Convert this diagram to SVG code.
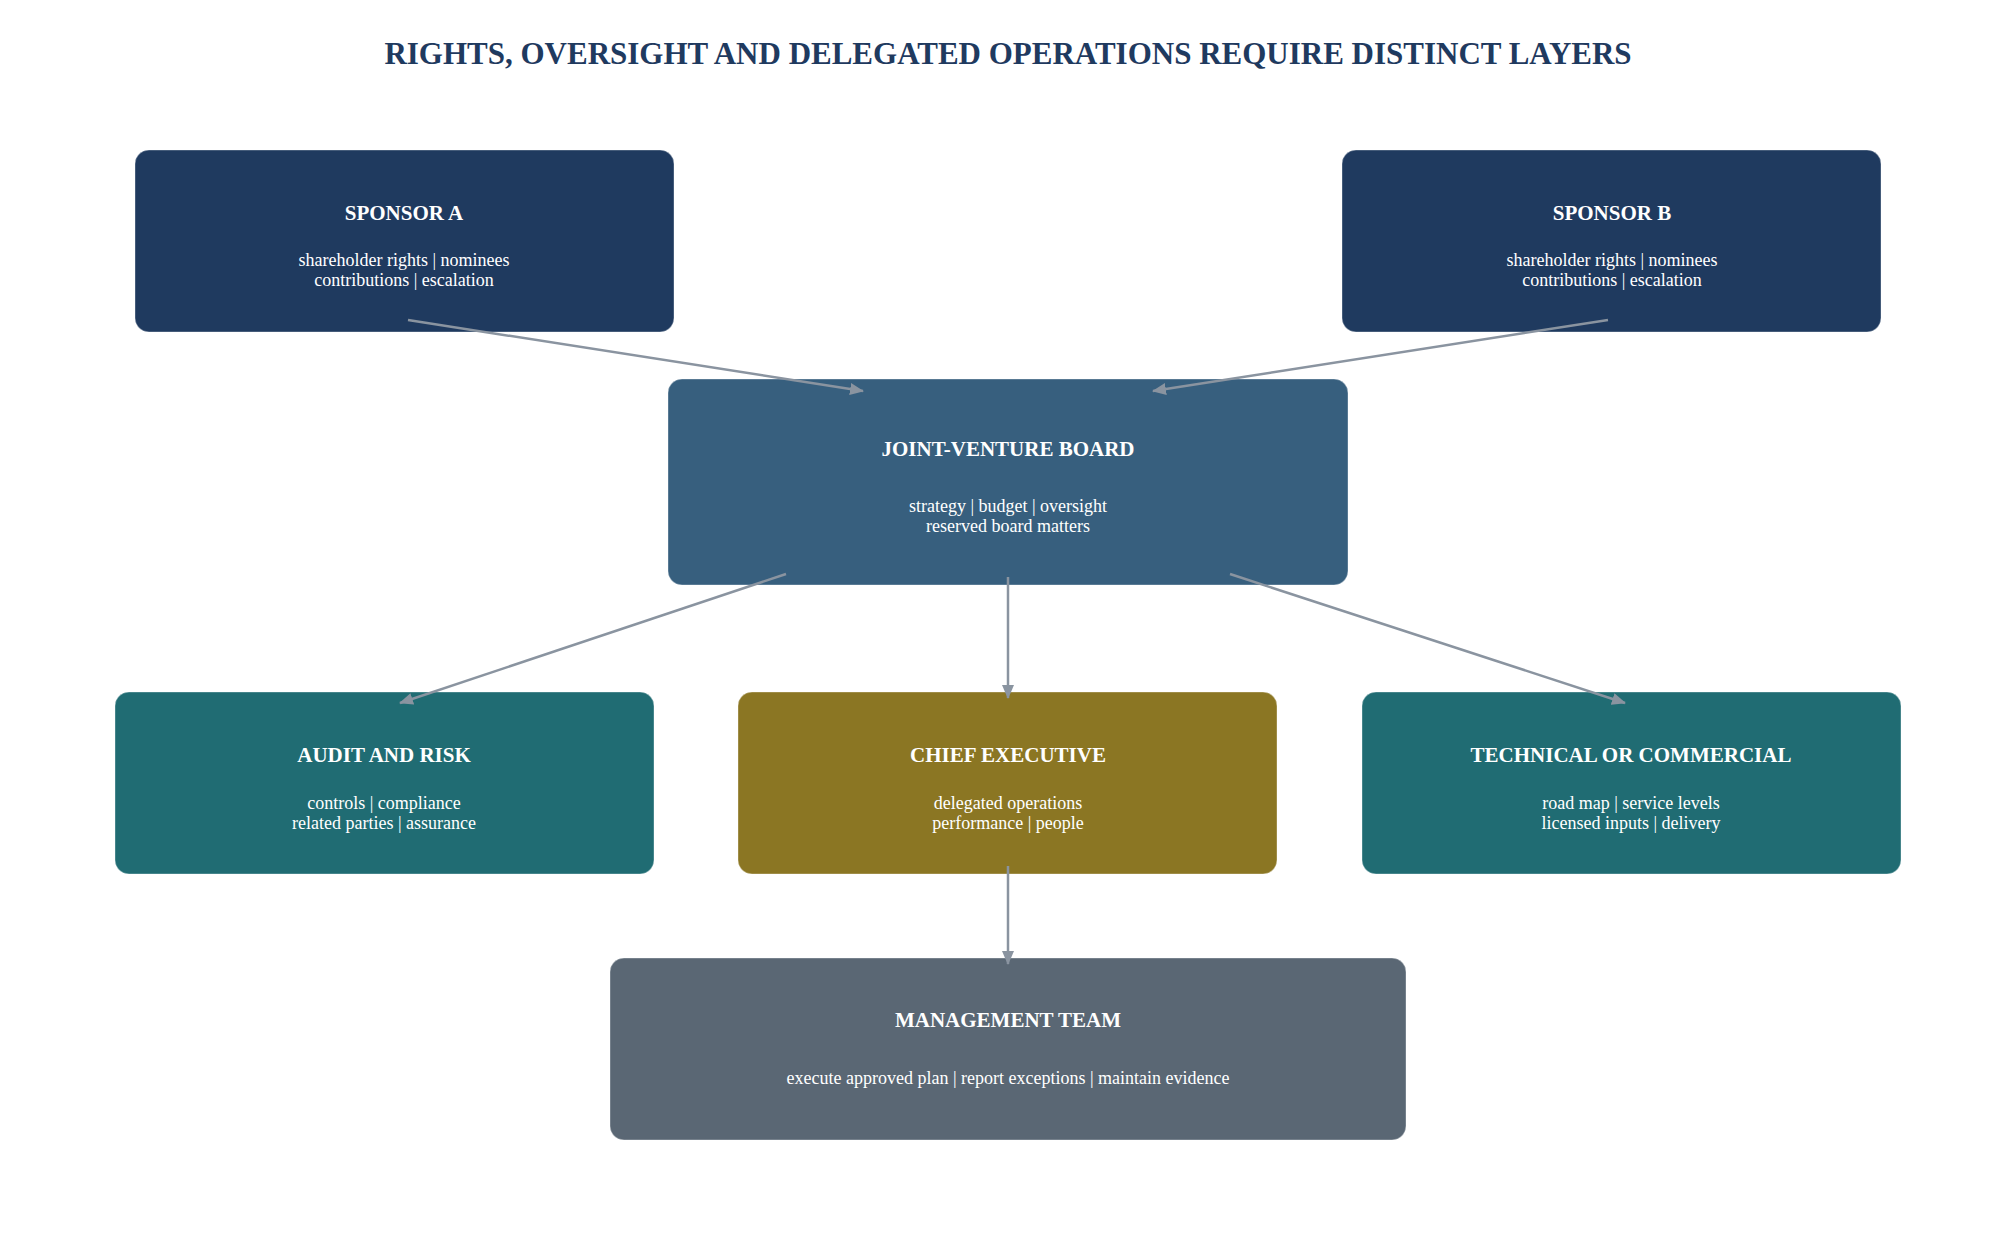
<svg xmlns="http://www.w3.org/2000/svg" width="2016" height="1242" viewBox="0 0 2016 1242">
<defs>
<style>
text{font-family:"Liberation Serif","Times New Roman",serif;fill:#ffffff;text-anchor:middle}
.title{font-size:31px;font-weight:bold;fill:#1f3a5f}
.h{font-size:21px;font-weight:bold}
.s{font-size:18px}
.box{stroke:#ffffff;stroke-opacity:0.35;stroke-width:1}
.edge{stroke:#8a94a0;stroke-width:2.5;fill:none;marker-end:url(#arr)}
</style>
<marker id="arr" markerUnits="userSpaceOnUse" markerWidth="14" markerHeight="12" refX="13" refY="6" orient="auto">
<path d="M0,0 L14,6 L0,12 Z" fill="#8a94a0"/>
</marker>
</defs>
<rect width="2016" height="1242" fill="#ffffff"/>
<text class="title" x="1008" y="64">RIGHTS, OVERSIGHT AND DELEGATED OPERATIONS REQUIRE DISTINCT LAYERS</text>

<g id="sponsor-a">
<rect class="box" x="135" y="150" width="539" height="182" rx="14" fill="#1f3a5f"/>
<text class="h" x="404" y="220">SPONSOR A</text>
<text class="s" x="404" y="266">shareholder rights | nominees</text>
<text class="s" x="404" y="286">contributions | escalation</text>
</g>

<g id="sponsor-b">
<rect class="box" x="1342" y="150" width="539" height="182" rx="14" fill="#1f3a5f"/>
<text class="h" x="1612" y="220">SPONSOR B</text>
<text class="s" x="1612" y="266">shareholder rights | nominees</text>
<text class="s" x="1612" y="286">contributions | escalation</text>
</g>

<g id="jv-board">
<rect class="box" x="668" y="379" width="680" height="206" rx="14" fill="#375f7e"/>
<text class="h" x="1008" y="456">JOINT-VENTURE BOARD</text>
<text class="s" x="1008" y="512">strategy | budget | oversight</text>
<text class="s" x="1008" y="532">reserved board matters</text>
</g>

<g id="audit-risk">
<rect class="box" x="115" y="692" width="539" height="182" rx="14" fill="#206c73"/>
<text class="h" x="384" y="762">AUDIT AND RISK</text>
<text class="s" x="384" y="809">controls | compliance</text>
<text class="s" x="384" y="829">related parties | assurance</text>
</g>

<g id="chief-executive">
<rect class="box" x="738" y="692" width="539" height="182" rx="14" fill="#8b7623"/>
<text class="h" x="1008" y="762">CHIEF EXECUTIVE</text>
<text class="s" x="1008" y="809">delegated operations</text>
<text class="s" x="1008" y="829">performance | people</text>
</g>

<g id="technical-commercial">
<rect class="box" x="1362" y="692" width="539" height="182" rx="14" fill="#206c73"/>
<text class="h" x="1631" y="762">TECHNICAL OR COMMERCIAL</text>
<text class="s" x="1631" y="809">road map | service levels</text>
<text class="s" x="1631" y="829">licensed inputs | delivery</text>
</g>

<g id="management-team">
<rect class="box" x="610" y="958" width="796" height="182" rx="14" fill="#5a6774"/>
<text class="h" x="1008" y="1027">MANAGEMENT TEAM</text>
<text class="s" x="1008" y="1084">execute approved plan | report exceptions | maintain evidence</text>
</g>

<g id="connectors">
<line class="edge" x1="408" y1="320" x2="863" y2="391"/>
<line class="edge" x1="1608" y1="320" x2="1153" y2="391"/>
<line class="edge" x1="786" y1="574" x2="400" y2="703"/>
<line class="edge" x1="1008" y1="577" x2="1008" y2="698"/>
<line class="edge" x1="1230" y1="574" x2="1625" y2="703"/>
<line class="edge" x1="1008" y1="866" x2="1008" y2="964"/>
</g>
</svg>
